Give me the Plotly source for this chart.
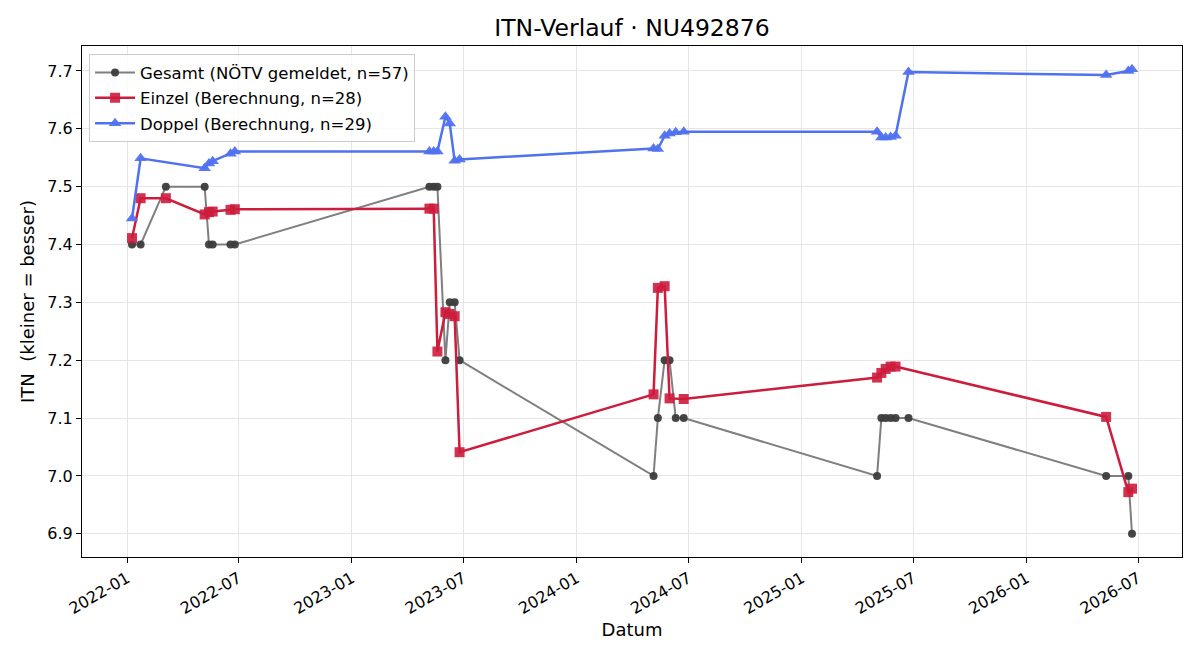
import plotly.graph_objects as go
import pandas as pd

gesamt_dates = ["2022-01-09", "2022-01-23", "2022-03-05", "2022-05-07", "2022-05-14", "2022-05-20",
                "2022-06-18", "2022-06-25", "2023-05-07", "2023-05-14", "2023-05-20", "2023-06-02",
                "2023-06-09", "2023-06-17", "2023-06-25", "2024-05-05", "2024-05-12", "2024-05-23",
                "2024-05-31", "2024-06-10", "2024-06-23", "2025-05-03", "2025-05-10", "2025-05-17",
                "2025-05-25", "2025-06-02", "2025-06-23", "2026-05-10", "2026-06-15", "2026-06-21"]
gesamt_itn = [7.4, 7.4, 7.5, 7.5, 7.4, 7.4, 7.4, 7.4, 7.5, 7.5, 7.5, 7.2, 7.3, 7.3, 7.2,
              7.0, 7.1, 7.2, 7.2, 7.1, 7.1, 7.0, 7.1, 7.1, 7.1, 7.1, 7.1, 7.0, 7.0, 6.9]

einzel_dates = ["2022-01-09", "2022-01-23", "2022-03-05", "2022-05-07", "2022-05-14", "2022-05-20",
                "2022-06-18", "2022-06-25", "2023-05-07", "2023-05-14", "2023-05-20", "2023-06-02",
                "2023-06-09", "2023-06-17", "2023-06-25", "2024-05-05", "2024-05-12", "2024-05-23",
                "2024-05-31", "2024-06-23", "2025-05-03", "2025-05-10", "2025-05-17", "2025-05-25",
                "2025-06-02", "2026-05-10", "2026-06-15", "2026-06-21"]
einzel_itn = [7.411, 7.480, 7.480, 7.452, 7.456, 7.457, 7.460, 7.461, 7.462, 7.462, 7.215, 7.283,
              7.280, 7.276, 7.041, 7.141, 7.325, 7.328, 7.134, 7.133, 7.170, 7.178, 7.185, 7.189,
              7.189, 7.102, 6.972, 6.978]

doppel_dates = ["2022-01-09", "2022-01-23", "2022-05-07", "2022-05-14", "2022-05-20", "2022-06-18",
                "2022-06-25", "2023-05-07", "2023-05-14", "2023-05-20", "2023-06-02", "2023-06-09",
                "2023-06-17", "2023-06-25", "2024-05-05", "2024-05-12", "2024-05-23", "2024-05-31",
                "2024-06-10", "2024-06-23", "2025-05-03", "2025-05-10", "2025-05-17", "2025-05-25",
                "2025-06-02", "2025-06-23", "2026-05-10", "2026-06-15", "2026-06-21"]
doppel_itn = [7.445, 7.549, 7.532, 7.540, 7.544, 7.557, 7.561, 7.561, 7.561, 7.561, 7.621, 7.609,
              7.545, 7.547, 7.566, 7.565, 7.588, 7.592, 7.594, 7.595, 7.595, 7.585, 7.585, 7.586,
              7.588, 7.698, 7.693, 7.700, 7.703]

tick_vals = ["2022-01-01", "2022-07-01", "2023-01-01", "2023-07-01", "2024-01-01",
             "2024-07-01", "2025-01-01", "2025-07-01", "2026-01-01", "2026-07-01"]
tick_text = ["2022-01", "2022-07", "2023-01", "2023-07", "2024-01",
             "2024-07", "2025-01", "2025-07", "2026-01", "2026-07"]
y_ticks = [6.9, 7.0, 7.1, 7.2, 7.3, 7.4, 7.5, 7.6, 7.7]

FONT = "DejaVu Sans"

fig = go.Figure()
fig.add_trace(go.Scatter(
    x=gesamt_dates, y=gesamt_itn, mode="lines+markers",
    name="Gesamt (NÖTV gemeldet, n=57)", legendgroup="g",
    line=dict(color="rgba(120,120,120,0.95)", width=2),
    marker=dict(symbol="circle", size=8, color="rgba(60,60,60,0.95)"),
))
fig.add_trace(go.Scatter(
    x=einzel_dates, y=einzel_itn, mode="lines+markers",
    name="Einzel (Berechnung, n=28)", legendgroup="e",
    line=dict(color="rgba(205,28,60,1)", width=2.5),
    marker=dict(symbol="square", size=10, color="rgba(205,28,60,0.9)"),
))
fig.add_trace(go.Scatter(
    x=doppel_dates, y=doppel_itn, mode="lines+markers",
    name="Doppel (Berechnung, n=29)", legendgroup="d",
    line=dict(color="rgba(80,114,240,1)", width=2.5),
    marker=dict(symbol="triangle-up", size=11, color="rgba(80,114,240,0.95)"),
))

all_dates = pd.to_datetime(gesamt_dates + einzel_dates + doppel_dates)
dmin, dmax = all_dates.min(), all_dates.max()
pad = (dmax - dmin) * 0.05
all_y = gesamt_itn + einzel_itn + doppel_itn
ymin, ymax = min(all_y), max(all_y)
ypad = (ymax - ymin) * 0.05

fig.update_layout(
    width=1200, height=660,
    paper_bgcolor="white", plot_bgcolor="white",
    margin=dict(l=82, r=18, t=46, b=103),
    font=dict(family=FONT, size=16, color="black"),
    title=dict(text="ITN-Verlauf · NU492876", x=0.5, xref="paper", y=1 - 28 / 660,
               yref="container", yanchor="middle", font=dict(size=23.5)),
    showlegend=True,
    legend=dict(x=0.0064, y=0.984, xanchor="left", yanchor="top",
                bgcolor="rgba(255,255,255,0.8)", bordercolor="#cccccc", borderwidth=1,
                font=dict(size=16.5), tracegroupgap=1, traceorder="grouped",
                itemwidth=40),
)
fig.update_xaxes(
    range=[dmin - pad, dmax + pad],
    tickmode="array", tickvals=tick_vals, ticktext=tick_text, tickangle=-30,
    showgrid=True, gridcolor="#e6e6e6", gridwidth=1,
    showline=True, linecolor="black", linewidth=1, mirror=True,
    ticks="outside", ticklen=5, tickcolor="black",
    tickfont=dict(size=16),
    title=dict(text="Datum", font=dict(size=18), standoff=6),
    zeroline=False,
)
fig.update_yaxes(
    range=[ymin - ypad, ymax + ypad],
    tickmode="array", tickvals=y_ticks, ticktext=[f"{v:.1f}" for v in y_ticks],
    showgrid=True, gridcolor="#e6e6e6", gridwidth=1,
    showline=True, linecolor="black", linewidth=1, mirror=True,
    ticks="outside", ticklen=5, tickcolor="black",
    tickfont=dict(size=16),
    title=dict(text="ITN\u00a0 (kleiner = besser)", font=dict(size=18), standoff=8),
    zeroline=False,
)

fig.write_html("out.html")
